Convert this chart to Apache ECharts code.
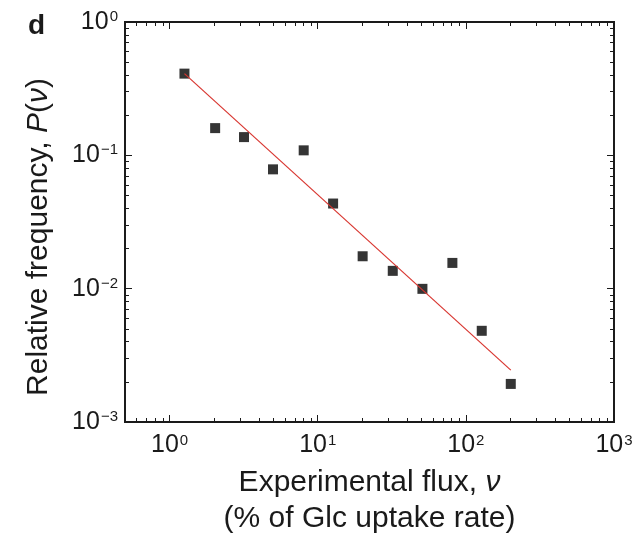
<!DOCTYPE html>
<html>
<head>
<meta charset="utf-8">
<script src="https://cdn.jsdelivr.net/npm/echarts@6/dist/echarts.min.js"></script>
<style>
  html, body { margin: 0; padding: 0; background: #fff; }
  #chart { width: 632px; height: 534px; }
</style>
</head>
<body>
<div id="chart"></div>
<script>
const flux = [1.26, 2.03, 3.18, 4.99, 8.04, 12.7, 20.1, 32.1, 50.9, 81.1, 128, 201];
const freq = [0.41, 0.16, 0.137, 0.0785, 0.109, 0.0435, 0.0175, 0.0136, 0.00997, 0.0156, 0.00483, 0.00193];

// fitted power-law line, end points
const fitFlux = [1.26, 201];
const fitFreq = [0.41, 0.00245];

// ticks
const xMajor = [1, 10, 100, 1000];
const xMinor = [0.6, 0.7, 0.8, 0.9, 2, 3, 4, 5, 6, 7, 8, 9, 20, 30, 40, 50, 60, 70, 80, 90,
  200, 300, 400, 500, 600, 700, 800, 900];
const yMajor = [0.001, 0.01, 0.1, 1];
const yMinor = [0.002, 0.003, 0.004, 0.005, 0.006, 0.007, 0.008, 0.009,
  0.02, 0.03, 0.04, 0.05, 0.06, 0.07, 0.08, 0.09, 0.2, 0.3, 0.4, 0.5, 0.6, 0.7, 0.8, 0.9];

const FONT = 'Liberation Sans';
const INK = '#1a1a1a';

const powLabel = (v) => {
  const e = Math.round(Math.log10(v));
  return '10{s|' + (e < 0 ? '\u2212' + (-e) : e) + '}';
};
const labelRich = {
  s: { fontSize: 15, fontFamily: FONT, color: INK, verticalAlign: 'top', padding: [0, 0, 0, 1] }
};

// one log axis; variants for major/minor ticks and mirrored sides
const makeAxis = (kind, pos, ticks, len, withLabels) => ({
  type: 'log',
  logBase: 10,
  position: pos,
  min: kind === 'x' ? 0.5 : 0.001,
  max: kind === 'x' ? 1000 : 1,
  splitLine: { show: false },
  axisLine: { show: true, onZero: false, lineStyle: { color: INK, width: 1.8 } },
  axisTick: {
    show: true, inside: true, length: len, customValues: ticks,
    lineStyle: { color: INK, width: 1 }
  },
  axisLabel: withLabels ? {
    show: true,
    customValues: ticks,
    formatter: powLabel,
    fontFamily: FONT,
    fontSize: 25,
    color: INK,
    margin: kind === 'x' ? 11 : 7,
    rich: labelRich
  } : { show: false }
});

const chartDom = document.getElementById('chart');
const chartInstance = echarts.init(chartDom, null, { renderer: 'canvas' });

const italic = (size, lh) => ({
  i: { fontFamily: FONT, fontSize: size, fontStyle: 'italic', color: INK, lineHeight: lh }
});

const xBottom = makeAxis('x', 'bottom', xMajor, 7, true);
xBottom.name = 'Experimental flux, {i|\u03bd}\n(% of Glc uptake rate)';
xBottom.nameLocation = 'middle';
xBottom.nameGap = 43;
xBottom.nameTextStyle = {
  fontFamily: FONT, fontSize: 30, color: INK, lineHeight: 36, rich: italic(30, 36)
};

const yLeft = makeAxis('y', 'left', yMajor, 7, true);
yLeft.name = 'Relative frequency, {i|P}({i|\u03bd})';
yLeft.nameLocation = 'middle';
yLeft.nameGap = 71;
yLeft.nameTextStyle = {
  fontFamily: FONT, fontSize: 30, color: INK, padding: [0, 30, 0, 0], rich: italic(30)
};

const option = {
  backgroundColor: '#fff',
  animation: false,
  graphic: [
    {
      type: 'text',
      left: 28,
      top: 12,
      style: { text: 'd', font: 'bold 28px "Liberation Sans"', fill: INK }
    }
  ],
  grid: { left: 125, right: 18, top: 22, bottom: 112, containLabel: false, outerBoundsMode: 'none' },
  xAxis: [
    xBottom,
    makeAxis('x', 'bottom', xMinor, 4, false),
    makeAxis('x', 'top', xMajor, 7, false),
    makeAxis('x', 'top', xMinor, 4, false)
  ],
  yAxis: [
    yLeft,
    makeAxis('y', 'left', yMinor, 4, false),
    makeAxis('y', 'right', yMajor, 7, false),
    makeAxis('y', 'right', yMinor, 4, false)
  ],
  series: [
    {
      name: 'fit',
      type: 'line',
      xAxisIndex: 0,
      yAxisIndex: 0,
      data: fitFlux.map((x, i) => [x, fitFreq[i]]),
      showSymbol: false,
      lineStyle: { color: '#d8352f', width: 1.2 },
      z: 3
    },
    {
      name: 'data',
      type: 'scatter',
      xAxisIndex: 0,
      yAxisIndex: 0,
      data: flux.map((x, i) => [x, freq[i]]),
      symbol: 'rect',
      symbolSize: 10,
      itemStyle: { color: '#2a2a2a', opacity: 0.95 },
      z: 2
    }
  ]
};

chartInstance.setOption(option);
</script>
</body>
</html>
